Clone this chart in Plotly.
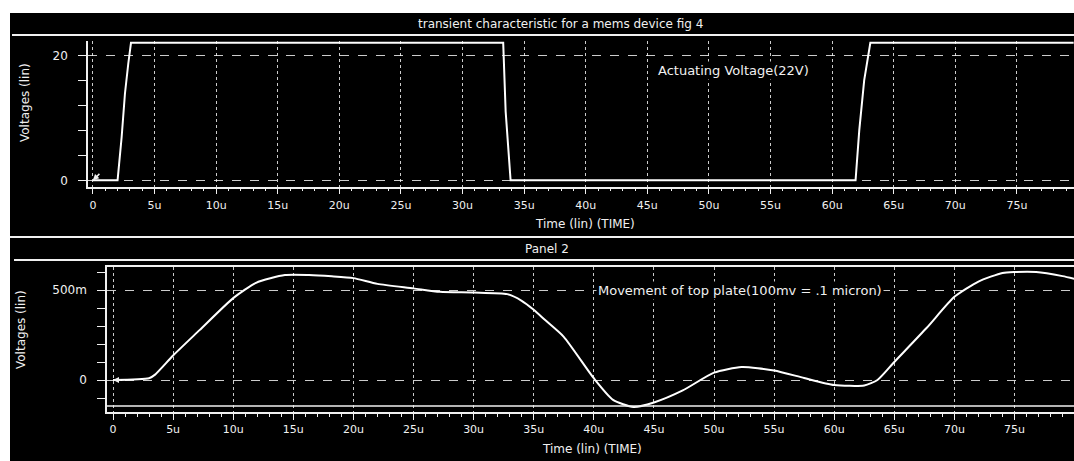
import plotly.graph_objects as go

# ---------------- data ----------------
# Panel 1: actuating voltage (time in microseconds, volts)
t_act = [0, 2.0, 2.33, 2.60, 2.87, 3.09, 33.3, 33.5, 33.9, 61.9, 62.2, 62.6, 63.1, 79.6]
v_act = [0, 0, 6.9, 13.9, 18.7, 22.0, 22.0, 11.0, 0, 0, 8.0, 16.0, 22.0, 22.0]

# Panel 2: movement of top plate (time in microseconds, volts)
t_mov = [0, 3.0, 3.5, 5, 7.2, 10, 11.9, 14.3, 16.3, 18.2, 20, 22, 25, 27.2, 30, 32.8,
         34, 35, 36, 37.5, 40, 41.6, 43.3, 45, 47.4, 50, 52.3, 55, 57.5, 60, 62.5,
         63.6, 65, 67.7, 70, 72, 74, 75, 76.8, 79, 80]
v_mov = [0, 0.01, 0.03, 0.136, 0.277, 0.455, 0.54, 0.583, 0.583, 0.576, 0.566, 0.534,
         0.509, 0.49, 0.486, 0.477, 0.44, 0.39, 0.33, 0.24, 0.01, -0.11, -0.15, -0.125,
         -0.058, 0.041, 0.072, 0.053, 0.011, -0.028, -0.03, 0.0, 0.1, 0.29, 0.462,
         0.547, 0.595, 0.6, 0.6, 0.577, 0.562]

x_tick_vals = [0, 5, 10, 15, 20, 25, 30, 35, 40, 45, 50, 55, 60, 65, 70, 75]
x_tick_text = ["0", "5u", "10u", "15u", "20u", "25u", "30u", "35u", "40u", "45u",
               "50u", "55u", "60u", "65u", "70u", "75u"]

y1_tick_vals = [0, 20]
y1_tick_text = ["0", "20"]
y2_tick_vals = [0, 0.5]
y2_tick_text = ["0", "500m"]

# ---------------- figure ----------------
W, H = 1074, 461
FG = "#f0f0f0"
GRID = "rgba(255,255,255,0.8)"
FONT = "DejaVu Sans"


def px(x):
    return x / W


def py(y):
    return 1 - y / H


fig = go.Figure()
fig.add_trace(go.Scatter(x=t_act, y=v_act, mode="lines", xaxis="x", yaxis="y",
                         line=dict(color="white", width=2), showlegend=False))
fig.add_trace(go.Scatter(x=t_mov, y=v_mov, mode="lines", xaxis="x2", yaxis="y2",
                         line=dict(color="white", width=2, shape="spline", smoothing=0.6),
                         showlegend=False))

common_x = dict(
    showgrid=True, gridcolor=GRID, griddash="dot", gridwidth=1,
    zeroline=False, showline=True, linecolor=FG, linewidth=1.5,
    ticks="outside", ticklen=6, tickcolor=FG, tickwidth=1,
    tickfont=dict(family=FONT, size=11, color=FG),
    minor=dict(dtick=1, tick0=0, ticks="outside", ticklen=3, tickcolor=FG, showgrid=False),
)
common_y = dict(
    showgrid=True, gridcolor=GRID, griddash="dash", gridwidth=1,
    zeroline=False, showline=True, linecolor=FG, linewidth=1.5,
    ticks="outside", ticklen=8, tickcolor=FG, tickwidth=1,
    tickfont=dict(family=FONT, size=12, color=FG),
)

fig.update_layout(
    width=W, height=H,
    margin=dict(l=0, r=0, t=0, b=0),
    paper_bgcolor="black", plot_bgcolor="black",
    xaxis=dict(domain=[px(88), 1], range=[-0.4, 79.63], anchor="y",
               tickvals=x_tick_vals, ticktext=x_tick_text, ticklabelstandoff=1,
               **common_x),
    yaxis=dict(domain=[py(186.6), py(41)], range=[-1.0, 22.3], anchor="x",
               tickvals=y1_tick_vals, ticktext=y1_tick_text, ticklabelstandoff=8,
               minor=dict(dtick=4, tick0=0, ticks="outside", ticklen=8,
                          tickcolor=FG, showgrid=False),
               **common_y),
    xaxis2=dict(domain=[px(107), 1], range=[-0.5, 79.95], anchor="y2",
                tickvals=x_tick_vals, ticktext=x_tick_text, ticklabelstandoff=0,
                mirror=True, **common_x),
    yaxis2=dict(domain=[py(412.4), py(266.6)], range=[-0.18, 0.63], anchor="x2",
                tickvals=y2_tick_vals, ticktext=y2_tick_text, ticklabelstandoff=8,
                minor=dict(dtick=0.1, tick0=0, ticks="outside", ticklen=8,
                           tickcolor=FG, showgrid=False),
                **common_y),
)

shapes = [
    # white scan margins
    dict(type="rect", xref="paper", yref="paper", x0=0, x1=px(10), y0=0, y1=1,
         fillcolor="white", line=dict(width=0), layer="above"),
    dict(type="rect", xref="paper", yref="paper", x0=0, x1=1, y0=py(13), y1=1,
         fillcolor="white", line=dict(width=0), layer="above"),
    # separator lines of title bars
    dict(type="line", xref="paper", yref="paper", x0=px(12), x1=1, y0=py(35), y1=py(35),
         line=dict(color=FG, width=2)),
    dict(type="line", xref="paper", yref="paper", x0=px(10), x1=1, y0=py(237), y1=py(237),
         line=dict(color=FG, width=2)),
    dict(type="line", xref="paper", yref="paper", x0=px(14), x1=1, y0=py(260), y1=py(260),
         line=dict(color=FG, width=2)),
    # lower frame line of panel 2
    dict(type="line", xref="x2 domain", yref="paper", x0=0, x1=1, y0=py(406), y1=py(406),
         line=dict(color=FG, width=1.5)),
]
fig.update_layout(shapes=shapes)


def pann(text, x, y, size=12, angle=0):
    return dict(text=text, x=px(x), y=py(y), xref="paper", yref="paper",
                xanchor="center", yanchor="middle", showarrow=False, textangle=angle,
                font=dict(family=FONT, size=size, color=FG))


ann = [
    pann("transient characteristic for a mems device fig 4", 560, 24),
    pann("Panel 2", 547, 249),
    pann("Voltages (lin)", 25, 103, angle=-90),
    pann("Voltages (lin)", 21, 330, angle=-90),
    pann("Time (lin) (TIME)", 585, 224, size=12),
    pann("Time (lin) (TIME)", 592, 449, size=12),
    dict(text="Actuating Voltage(22V)", x=52, y=17.5, xref="x", yref="y", showarrow=False,
         xanchor="center", yanchor="middle", bgcolor="black",
         font=dict(family=FONT, size=13, color=FG)),
    dict(text="Movement of top plate(100mv = .1 micron)", x=52.2, y=0.5, xref="x2",
         yref="y2", showarrow=False, xanchor="center", yanchor="middle", bgcolor="black",
         font=dict(family=FONT, size=13, color=FG)),
    # origin markers
    dict(text="", x=0, y=0, xref="x", yref="y", showarrow=True, ax=8, ay=-8,
         arrowhead=2, arrowsize=0.8, arrowwidth=1.5, arrowcolor=FG),
    dict(text="", x=0, y=0, xref="x2", yref="y2", showarrow=True, ax=9, ay=0,
         arrowhead=2, arrowsize=0.8, arrowwidth=1.5, arrowcolor=FG),
]
fig.update_layout(annotations=ann)

fig.write_html("out.html", config={"displayModeBar": False},
               post_script="document.body.style.margin='0';")
